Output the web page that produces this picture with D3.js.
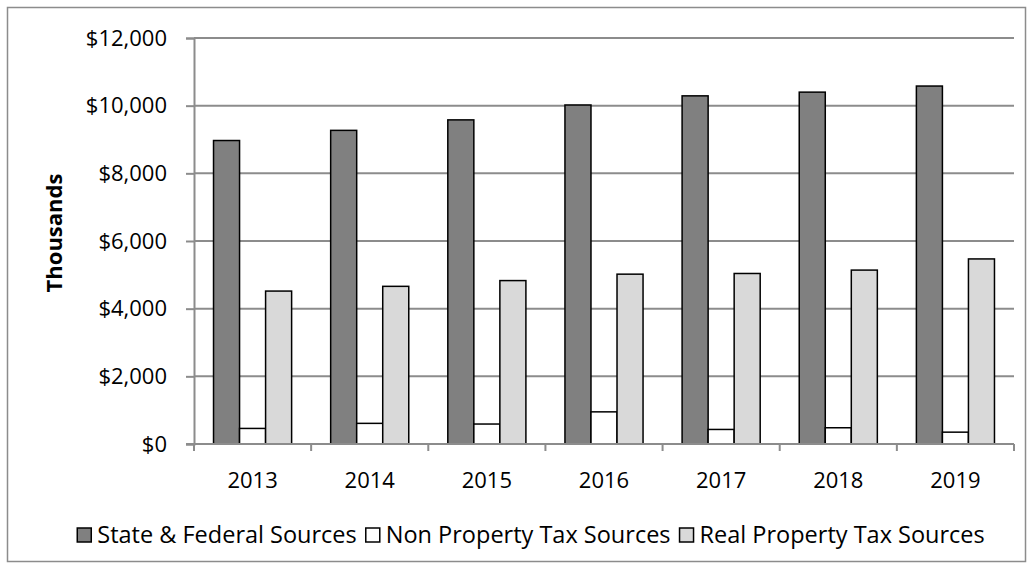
<!DOCTYPE html>
<html>
<head>
<meta charset="utf-8">
<script src="https://cdn.jsdelivr.net/npm/d3@7"></script>
<style>
  body { margin: 0; background: #fff; }
  text { font-family: "Open Sans", Lato, sans-serif; fill: #000; }
</style>
</head>
<body>
<div id="chart-area"></div>
<script>
// chart values (thousands of dollars)
var years = ["2013", "2014", "2015", "2016", "2017", "2018", "2019"];
var seriesNames = ["State & Federal Sources", "Non Property Tax Sources", "Real Property Tax Sources"];
var stateFederal = [8970, 9270, 9580, 10020, 10290, 10400, 10580];
var nonProperty = [460, 610, 590, 950, 430, 480, 350];
var realProperty = [4520, 4660, 4830, 5020, 5040, 5140, 5470];
var yTicks = [0, 2000, 4000, 6000, 8000, 10000, 12000];

var colors = ["#808080", "#ffffff", "#d9d9d9"];

var width = 1033, height = 569;
var plot = {left: 194, right: 1014, top: 38, bottom: 444};

var svg = d3.select("#chart-area").append("svg")
    .attr("width", width)
    .attr("height", height);

// outer chart border
svg.append("rect")
    .attr("x", 7.5).attr("y", 7.5)
    .attr("width", 1018).attr("height", 554)
    .attr("fill", "#fff")
    .attr("stroke", "#8c8c8c")
    .attr("stroke-width", 1.5);

var xScale = d3.scaleBand()
    .domain(years)
    .range([plot.left, plot.right]);

// three bars in a category, gap of 150% of a bar width
var xInner = d3.scaleBand()
    .domain(seriesNames)
    .range([0, xScale.bandwidth()])
    .paddingInner(0)
    .paddingOuter(0.75);

var yScale = d3.scaleLinear()
    .domain([0, 12000])
    .range([plot.bottom, plot.top]);

// gridlines
svg.append("g")
    .selectAll("line")
    .data(yTicks.slice(1))
    .enter()
    .append("line")
    .attr("x1", plot.left).attr("x2", plot.right)
    .attr("y1", d => yScale(d)).attr("y2", d => yScale(d))
    .attr("stroke", "#8c8c8c")
    .attr("stroke-width", 2);

// y axis
var yAxis = d3.axisLeft(yScale)
    .tickValues(yTicks)
    .tickSize(8)
    .tickPadding(19)
    .tickFormat(d => "$" + d3.format(",")(d));

var yG = svg.append("g")
    .attr("transform", "translate(" + plot.left + ",0)")
    .call(yAxis);
yG.select(".domain").attr("stroke", "#8c8c8c").attr("stroke-width", 2);
yG.selectAll(".tick line").attr("stroke", "#8c8c8c").attr("stroke-width", 2);
yG.selectAll("text").style("font-size", "22px").attr("fill", "#000");

// bars
var data = years.map(function (y, i) {
    return {year: y, values: [stateFederal[i], nonProperty[i], realProperty[i]]};
});

var groups = svg.selectAll(".group")
    .data(data)
    .enter()
    .append("g")
    .attr("transform", d => "translate(" + xScale(d.year) + ",0)");

groups.selectAll("rect")
    .data(d => d.values.map((v, k) => ({name: seriesNames[k], value: v, k: k})))
    .enter()
    .append("rect")
    .attr("x", d => xInner(d.name))
    .attr("y", d => yScale(d.value))
    .attr("width", xInner.bandwidth())
    .attr("height", d => plot.bottom - yScale(d.value))
    .attr("fill", d => colors[d.k])
    .attr("stroke", "#000")
    .attr("stroke-width", 1.5);

// x axis
var xAxis = d3.axisBottom(xScale).tickSize(0).tickPadding(28);
var xG = svg.append("g")
    .attr("transform", "translate(0," + plot.bottom + ")")
    .call(xAxis);
xG.select(".domain").remove();
xG.selectAll("text").style("font-size", "22px").attr("fill", "#000");

svg.append("line")
    .attr("x1", plot.left - 8).attr("x2", plot.right)
    .attr("y1", plot.bottom).attr("y2", plot.bottom)
    .attr("stroke", "#8c8c8c").attr("stroke-width", 2);

// category boundary ticks
var bounds = years.map(y => xScale(y)).concat([plot.right]);
svg.append("g")
    .selectAll("line")
    .data(bounds)
    .enter()
    .append("line")
    .attr("x1", d => d).attr("x2", d => d)
    .attr("y1", plot.bottom).attr("y2", plot.bottom + 7)
    .attr("stroke", "#8c8c8c").attr("stroke-width", 2);

// y axis title
svg.append("text")
    .attr("transform", "translate(62," + 233 + ") rotate(-90)")
    .attr("text-anchor", "middle")
    .style("font-size", "22px")
    .style("font-weight", "bold")
    .text("Thousands");

// legend - laid out one after the other, centred under the chart
var legend = svg.append("g");
var items = legend.selectAll("g")
    .data(seriesNames)
    .enter()
    .append("g");

items.append("rect")
    .attr("y", 528)
    .attr("width", 14).attr("height", 14)
    .attr("fill", (d, i) => colors[i])
    .attr("stroke", "#000")
    .attr("stroke-width", 1.5);

items.append("text")
    .attr("x", 20)
    .attr("y", 543)
    .style("font-size", "23.5px")
    .text(d => d);

var offset = 0;
items.each(function () {
    var w = this.getBBox().width;
    d3.select(this).attr("transform", "translate(" + offset + ",0)");
    offset += w + 9;
});
offset -= 9;
legend.attr("transform", "translate(" + (531 - offset / 2) + ",0)");
</script>
</body>
</html>
